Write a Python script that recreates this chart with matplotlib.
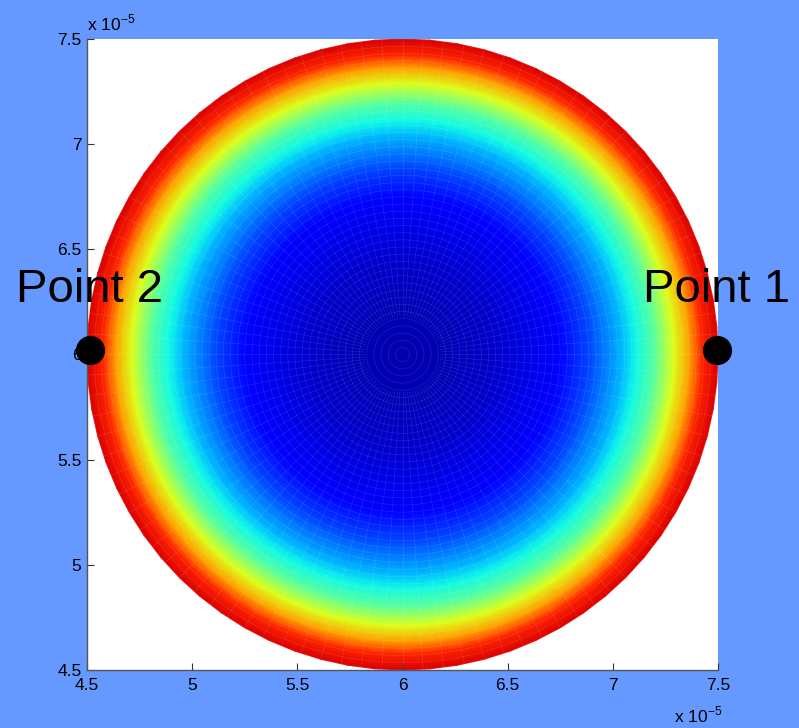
import numpy as np
import matplotlib.pyplot as plt

plt.rcParams['font.family'] = ['Liberation Sans', 'DejaVu Sans']

# radial colour profile (fraction of radius -> colour level)
r_frac = [0, 0.15, 0.3, 0.4, 0.5, 0.6, 0.7, 0.74, 0.8, 0.86, 0.91, 0.95, 1.0]
level = [0.04, 0.05, 0.07, 0.09, 0.12, 0.2, 0.31, 0.37, 0.46, 0.62, 0.74, 0.87, 0.92]

# disk centre and radius
xc, yc, R = 6e-5, 6e-5, 1.5e-5

# marked points
pts_x = [7.494e-5, 4.514e-5]
pts_y = [6.02e-5, 6.02e-5]
pts_lbl = ['Point 1', 'Point 2']
lbl_y = 6.25e-5

ticks = [4.5e-5, 5e-5, 5.5e-5, 6e-5, 6.5e-5, 7e-5, 7.5e-5]
tick_lbl = ['4.5', '5', '5.5', '6', '6.5', '7', '7.5']

bg = '#6699ff'
fig = plt.figure(figsize=(7.99, 7.28), dpi=100, facecolor=bg)
ax = fig.add_axes([87 / 799, 58 / 728, 631 / 799, 631 / 728])

theta = np.linspace(0, 2 * np.pi, 73)
rr = np.array(r_frac) * R
X = xc + rr[:, None] * np.cos(theta)[None, :]
Y = yc + rr[:, None] * np.sin(theta)[None, :]
C = np.repeat(np.array(level)[:, None], len(theta), axis=1)
ax.pcolormesh(X, Y, C, shading='gouraud', cmap='jet', vmin=0, vmax=1)

# faint white facet lines of the surface mesh
for rad in np.linspace(0, R, 45)[1:]:
    ax.plot(xc + rad * np.cos(theta), yc + rad * np.sin(theta),
            color='white', lw=0.4, alpha=0.15)
for th in np.linspace(0, 2 * np.pi, 97)[:-1]:
    ax.plot([xc + 0.12 * R * np.cos(th), xc + R * np.cos(th)],
            [yc + 0.12 * R * np.sin(th), yc + R * np.sin(th)],
            color='white', lw=0.4, alpha=0.15)

ax.plot(pts_x, pts_y, 'o', color='black', markersize=20, clip_on=False, zorder=5)
for x, lbl in zip(pts_x, pts_lbl):
    ax.text(x, lbl_y, lbl, ha='center', va='baseline', fontsize=34, zorder=6)

ax.set_xlim(4.5e-5, 7.5e-5)
ax.set_ylim(4.5e-5, 7.5e-5)
ax.set_xticks(ticks)
ax.set_yticks(ticks)
ax.set_xticklabels(tick_lbl)
ax.set_yticklabels(tick_lbl)
ax.tick_params(direction='in', length=5, width=0.8, color='#333333', labelsize=12.5)
ax.tick_params(axis='x', pad=6)
ax.tick_params(axis='y', pad=4)
for s in ['top', 'right']:
    ax.spines[s].set_visible(False)
for s in ['left', 'bottom']:
    ax.spines[s].set_color('#555555')
    ax.spines[s].set_linewidth(1.0)

fig.text(87 / 799, 1 - 30 / 728, r'x 10$^{\mathregular{-5}}$', fontsize=12.5,
         ha='left', va='baseline')
fig.text(674 / 799, 1 - 722 / 728, r'x 10$^{\mathregular{-5}}$', fontsize=12.5,
         ha='left', va='baseline')

fig.savefig('out.png', dpi=100, facecolor=bg)
